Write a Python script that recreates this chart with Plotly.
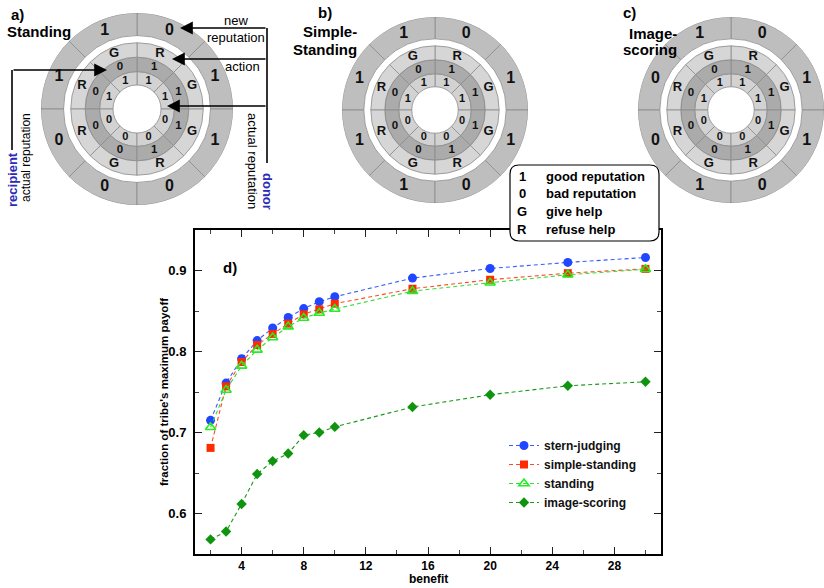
import plotly.graph_objects as go

W, H = 824, 588

# ---------------- data ----------------
benefit = [2, 3, 4, 5, 6, 7, 8, 9, 10, 15, 20, 25, 30]
stern_judging = [0.715, 0.761, 0.791, 0.8135, 0.829, 0.842, 0.853, 0.8615, 0.8676, 0.8906, 0.9025, 0.910, 0.916]
simple_standing = [0.681, 0.757, 0.787, 0.808, 0.8217, 0.8344, 0.8459, 0.852, 0.859, 0.8775, 0.8886, 0.8967, 0.902]
standing = [0.7065, 0.7524, 0.7823, 0.802, 0.8172, 0.8307, 0.8414, 0.8475, 0.8524, 0.8745, 0.8849, 0.8947, 0.9016]
image_scoring = [0.568, 0.5777, 0.6118, 0.6487, 0.6647, 0.674, 0.6967, 0.700, 0.7069, 0.7315, 0.7466, 0.7577, 0.7626]

x_ticks = [4, 8, 12, 16, 20, 24, 28]
y_ticks = [0.6, 0.7, 0.8, 0.9]
y_tick_labels = ["0.6", "0.7", "0.8", "0.9"]

# ring diagrams: 8 sectors (angle of sector centre, counter-clockwise from east)
sector_angles = [22.5, 67.5, 112.5, 157.5, 202.5, 247.5, 292.5, 337.5]
inner_rep = ["1", "1", "1", "1", "0", "0", "0", "0"]
middle_rep = ["1", "1", "0", "0", "0", "0", "1", "1"]
actions = ["G", "R", "G", "R", "R", "G", "R", "G"]
new_rep_standing = ["1", "0", "1", "1", "0", "0", "0", "1"]
new_rep_simple = ["1", "0", "1", "1", "1", "1", "0", "1"]
new_rep_image = ["1", "0", "1", "0", "0", "1", "0", "1"]

key_symbols = ["1", "0", "G", "R"]
key_texts = ["good reputation", "bad reputation", "give help", "refuse help"]

FONT = "Liberation Sans, Arial, Helvetica, sans-serif"


def px(x):
    return x / W


def py(y):
    return 1 - y / H


fig = go.Figure()

# ---------------- main chart ----------------
series = [
    ("stern-judging", stern_judging, dict(symbol="circle", size=9, color="#2146ff"), "#3a5cff"),
    ("simple-standing", simple_standing, dict(symbol="square", size=8, color="#ff2a00"), "#ff4a2a"),
    ("standing", standing, dict(symbol="triangle-up-open", size=9, color="#22ee22", line=dict(width=1.6, color="#22ee22")), "#33dd33"),
    ("image-scoring", image_scoring, dict(symbol="diamond", size=8, color="#0f940f"), "#1a9a1a"),
]
for name, vals, mk, lc in series:
    fig.add_trace(go.Scatter(
        x=benefit, y=vals, name=name, mode="lines+markers",
        marker=mk, line=dict(color=lc, width=1.1, dash="4px,3px"),
        xaxis="x", yaxis="y", cliponaxis=False,
    ))

# ---------------- ring diagrams (polar subplots) ----------------
edges = [0.25, 0.39, 0.54, 0.69, 0.765, 1.0]
label_r = [0.315, 0.467, 0.622, 0.88]
ring_colors = ["#d2d2d2", "#ababab", "#d6d6d6", "#bebebe"]
rings = [
    ("polar", new_rep_standing, (137, 109, 96)),
    ("polar2", new_rep_simple, (435, 110, 93)),
    ("polar3", new_rep_image, (731, 110, 93)),
]
for sub, outer_labels, (cx, cy, R) in rings:
    layers = [
        (edges[0], edges[1], ring_colors[0], inner_rep, 11, label_r[0]),
        (edges[1], edges[2], ring_colors[1], middle_rep, 11.5, label_r[1]),
        (edges[2], edges[3], ring_colors[2], actions, 13, label_r[2]),
        (edges[4], edges[5], ring_colors[3], outer_labels, 16, label_r[3]),
    ]
    for r0, r1, col, labels, fs, lr in layers:
        fig.add_trace(go.Barpolar(
            r=[r1 - r0] * len(sector_angles), base=[r0] * len(sector_angles),
            theta=sector_angles, width=[45] * len(sector_angles),
            marker=dict(color=col, line=dict(color="#8c8c8c", width=0.8)),
            subplot=sub, showlegend=False, hoverinfo="skip",
        ))
        fig.add_trace(go.Scatterpolar(
            r=[lr] * len(sector_angles), theta=sector_angles,
            text=["<b>%s</b>" % t for t in labels], mode="text",
            textfont=dict(family=FONT, size=fs, color="#111111"),
            subplot=sub, showlegend=False, hoverinfo="skip",
        ))

polar_common = dict(
    bgcolor="rgba(0,0,0,0)", barmode="overlay", bargap=0,
    radialaxis=dict(visible=False, range=[0, 1]),
    angularaxis=dict(visible=False, direction="counterclockwise", rotation=0),
)
polar_layouts = {}
for sub, _, (cx, cy, R) in rings:
    x0, x1 = max(cx - R, 0), min(cx + R, W)
    polar_layouts[sub] = dict(
        domain=dict(x=[px(x0), px(x1)], y=[py(cy + R), py(cy - R)]), **polar_common
    )

# ---------------- shapes ----------------
shapes = []


def seg(x0, y0, x1, y1, w=1.6):
    shapes.append(dict(type="line", xref="paper", yref="paper",
                       x0=px(x0), y0=py(y0), x1=px(x1), y1=py(y1),
                       line=dict(color="black", width=w)))


# donor connector
seg(267, 28, 267, 163)
# recipient connector
seg(12, 70, 12, 150)

# rounded key box
bx0, bx1, by0, by1, rr = 510, 659, 165, 241, 9
path = (
    f"M {px(bx0 + rr)} {py(by0)} L {px(bx1 - rr)} {py(by0)} "
    f"Q {px(bx1)} {py(by0)} {px(bx1)} {py(by0 + rr)} "
    f"L {px(bx1)} {py(by1 - rr)} Q {px(bx1)} {py(by1)} {px(bx1 - rr)} {py(by1)} "
    f"L {px(bx0 + rr)} {py(by1)} Q {px(bx0)} {py(by1)} {px(bx0)} {py(by1 - rr)} "
    f"L {px(bx0)} {py(by0 + rr)} Q {px(bx0)} {py(by0)} {px(bx0 + rr)} {py(by0)} Z"
)
shapes.append(dict(type="path", xref="paper", yref="paper", path=path,
                   fillcolor="white", line=dict(color="black", width=1.2), layer="above"))

# ---------------- annotations ----------------
ann = []


def text(x, y, s, size=13, xanchor="center", yanchor="middle", angle=0, color="black"):
    ann.append(dict(x=px(x), y=py(y), xref="paper", yref="paper", text=s,
                    showarrow=False, xanchor=xanchor, yanchor=yanchor, textangle=angle,
                    font=dict(family=FONT, size=size, color=color)))


def arrow(xt, yt, xs, ys):
    ann.append(dict(x=px(xt), y=py(yt), xref="paper", yref="paper",
                    ax=xs - xt, ay=ys - yt, axref="pixel", ayref="pixel",
                    text="", showarrow=True, arrowhead=2, arrowsize=1.6,
                    arrowwidth=1.6, arrowcolor="black"))


# panel titles
text(9, 15, "<b>a)</b>", 15, xanchor="left")
text(5, 32, "<b>Standing</b>", 15, xanchor="left")
text(316, 13, "<b>b)</b>", 15, xanchor="left")
text(359, 32, "<b>Simple-</b>", 15, xanchor="right")
text(359, 49, "<b>Standing</b>", 15, xanchor="right")
text(621, 13, "<b>c)</b>", 15, xanchor="left")
text(679, 33, "<b>Image-</b>", 15, xanchor="right")
text(679, 50, "<b>scoring</b>", 15, xanchor="right")

# arrows & explanations in panel a
arrow(180, 28, 267, 28)
arrow(172, 59, 267, 59)
arrow(167, 106, 267, 106)
arrow(107, 70, 12, 70)
text(236, 20, "new", 13)
text(236, 38, "reputation", 13)
text(243, 67, "action", 13)
text(268, 191, "<b>donor</b>", 13, angle=90, color="#2b2bb8")
text(253, 161, "actual reputation", 13, angle=90)
text(12, 180, "<b>recipient</b>", 13, angle=-90, color="#2b2bb8")
text(26, 158, "actual reputation", 12, angle=-90)

# key box text
key_y = [176, 193, 212, 229]
for s, t, yy in zip(key_symbols, key_texts, key_y):
    text(522, yy, "<b>%s</b>" % s, 13)
    text(544, yy, "<b>%s</b>" % t, 13, xanchor="left")

# main chart labels
text(221, 267, "<b>d)</b>", 15, xanchor="left")
text(428, 579, "<b>benefit</b>", 12)
text(164, 392, "<b>fraction of tribe's maximum payoff</b>", 11.5, angle=-90)

# ---------------- layout ----------------
axis_common = dict(
    showline=True, linewidth=2, linecolor="black", mirror="allticks",
    ticks="inside", ticklen=7, tickwidth=1.3, tickcolor="#222",
    showgrid=False, zeroline=False,
)
fig.update_layout(
    width=W, height=H, margin=dict(l=0, r=0, t=0, b=0, autoexpand=False),
    paper_bgcolor="white", plot_bgcolor="rgba(0,0,0,0)",
    xaxis=dict(domain=[px(195), px(661)], range=[1, 31], tickmode="array",
               tickvals=x_ticks, ticktext=[str(v) for v in x_ticks],
               tickfont=dict(family=FONT, size=12, color="black", weight="bold"),
               minor=dict(dtick=2, tick0=0, ticks="inside", ticklen=4, tickcolor="#444"),
               **axis_common),
    yaxis=dict(domain=[py(554), py(230)], range=[0.55, 0.95], tickmode="array",
               tickvals=y_ticks, ticktext=y_tick_labels, ticklabelstandoff=4,
               tickfont=dict(family=FONT, size=13, color="black", weight="bold"),
               minor=dict(dtick=0.05, tick0=0, ticks="inside", ticklen=4, tickcolor="#444"),
               **axis_common),
    legend=dict(x=px(504), y=py(431), xanchor="left", yanchor="top",
                bgcolor="rgba(0,0,0,0)", font=dict(family=FONT, size=12, color="#111", weight="bold"),
                itemwidth=30, tracegroupgap=0),
    shapes=shapes, annotations=ann,
    **polar_layouts,
)

fig.write_html(
    "out.html",
    config={"displayModeBar": False},
    post_script="document.body.style.margin='0';document.body.style.overflow='hidden';",
)
